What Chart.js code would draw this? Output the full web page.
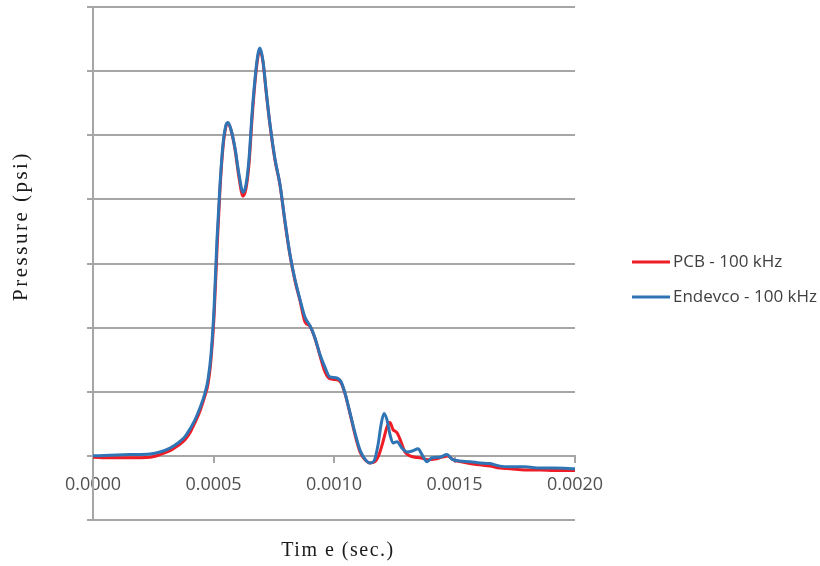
<!DOCTYPE html>
<html>
<head>
<meta charset="utf-8">
<script src="https://cdn.jsdelivr.net/npm/chart.js@4/dist/chart.umd.min.js"></script>
<style>
  html, body { margin: 0; padding: 0; background: #ffffff; }
  #wrap { width: 820px; height: 566px; position: relative; }
</style>
</head>
<body>
<div id="wrap"><canvas id="c" width="820" height="566"></canvas></div>
<script>
// ---- Data (time in seconds, pressure in gridline units) ----
const seriesNames = ["PCB - 100 kHz", "Endevco - 100 kHz"];
const xTickValues = [0, 0.0005, 0.0010, 0.0015, 0.0020];
const xTitle = "Tim e (sec.)";
const yTitle = "Pressure (psi)";

const endevcoTime = [
  0, 0.0000705, 0.0001535, 0.0002365, 0.0002780, 0.0003195, 0.0003527, 0.0003817,
  0.0004025, 0.0004232, 0.0004440, 0.0004647, 0.0004772, 0.0004896, 0.0005021, 0.0005145,
  0.0005270, 0.0005394, 0.0005519, 0.0005602, 0.0005726, 0.0005892, 0.0006058, 0.0006224,
  0.0006349, 0.0006473, 0.0006598, 0.0006722, 0.0006846, 0.0006929, 0.0007054, 0.0007178,
  0.0007344, 0.0007552, 0.0007760, 0.0007967, 0.0008174, 0.0008382, 0.0008589, 0.0008797,
  0.0009004, 0.0009212, 0.0009419, 0.0009627, 0.0009834, 0.0010083, 0.0010290, 0.0010456,
  0.0010664, 0.0010871, 0.0011079, 0.0011286, 0.0011494, 0.0011660, 0.0011826, 0.0011950,
  0.0012075, 0.0012199, 0.0012324, 0.0012448, 0.0012614, 0.0012822, 0.0013029, 0.0013278,
  0.0013485, 0.0013651, 0.0013859, 0.0014066, 0.0014398, 0.0014689, 0.0014896, 0.0015228,
  0.0015643, 0.0016058, 0.0016473, 0.0016888, 0.0017303, 0.0017925, 0.0018548, 0.0019170,
  0.0020000
];
const endevcoPressure = [
  0.00, 0.01, 0.02, 0.03, 0.06, 0.12, 0.20, 0.30,
  0.42, 0.56, 0.75, 0.98, 1.19, 1.58, 2.28, 3.38,
  4.23, 4.86, 5.16, 5.20, 5.09, 4.80, 4.39, 4.11,
  4.23, 4.63, 5.33, 5.88, 6.27, 6.36, 6.16, 5.72,
  5.17, 4.63, 4.23, 3.66, 3.14, 2.75, 2.44, 2.16,
  2.03, 1.84, 1.58, 1.38, 1.23, 1.22, 1.16, 0.98,
  0.67, 0.36, 0.09, -0.05, -0.11, -0.08, 0.17, 0.48,
  0.66, 0.56, 0.33, 0.20, 0.22, 0.12, 0.06, 0.08,
  0.11, 0.02, -0.09, -0.03, -0.02, 0.02, -0.05, -0.08,
  -0.09, -0.11, -0.12, -0.16, -0.17, -0.17, -0.19, -0.19,
  -0.20
];

const pcbTime = [
  0, 0.0000705, 0.0001535, 0.0002365, 0.0002780, 0.0003195, 0.0003527, 0.0003817,
  0.0004025, 0.0004232, 0.0004440, 0.0004647, 0.0004772, 0.0004896, 0.0005021, 0.0005145,
  0.0005270, 0.0005394, 0.0005519, 0.0005602, 0.0005726, 0.0005892, 0.0006058, 0.0006224,
  0.0006349, 0.0006473, 0.0006598, 0.0006722, 0.0006846, 0.0006929, 0.0007054, 0.0007178,
  0.0007344, 0.0007552, 0.0007760, 0.0007967, 0.0008174, 0.0008382, 0.0008589, 0.0008797,
  0.0009004, 0.0009212, 0.0009419, 0.0009627, 0.0009834, 0.0010083, 0.0010290, 0.0010456,
  0.0010664, 0.0010871, 0.0011079, 0.0011286, 0.0011494, 0.0011701, 0.0011867, 0.0012033,
  0.0012199, 0.0012324, 0.0012448, 0.0012614, 0.0012780, 0.0012946, 0.0013154, 0.0013361,
  0.0013568, 0.0013900, 0.0014191, 0.0014481, 0.0014730, 0.0014938, 0.0015228, 0.0015643,
  0.0016058, 0.0016473, 0.0016888, 0.0017303, 0.0017925, 0.0018548, 0.0019170, 0.0020000
];
const pcbPressure = [
  -0.02, -0.03, -0.03, -0.02, 0.02, 0.08, 0.16, 0.25,
  0.36, 0.52, 0.70, 0.94, 1.12, 1.50, 2.16, 3.22,
  4.16, 4.81, 5.14, 5.19, 5.08, 4.78, 4.34, 4.05,
  4.17, 4.55, 5.25, 5.83, 6.23, 6.33, 6.14, 5.70,
  5.16, 4.61, 4.22, 3.64, 3.13, 2.73, 2.42, 2.09,
  2.02, 1.83, 1.56, 1.31, 1.20, 1.19, 1.14, 0.97,
  0.66, 0.33, 0.06, -0.06, -0.11, -0.09, 0.02, 0.22,
  0.45, 0.52, 0.41, 0.36, 0.22, 0.06, 0.00, -0.02,
  -0.03, -0.06, -0.05, -0.02, 0.00, -0.06, -0.09, -0.12,
  -0.14, -0.16, -0.19, -0.20, -0.22, -0.22, -0.23, -0.23
];

const RED = '#ee1c25';
const BLUE = '#2f75b5';
const GRID = '#a6a6a6';

function toPoints(xs, ys) { return xs.map((x, i) => ({ x: x, y: ys[i] })); }

const decorPlugin = {
  id: 'decor',
  afterDraw(chart) {
    const ctx = chart.ctx;
    ctx.save();
    // Legend
    const items = [
      { label: seriesNames[0], color: RED, y: 262 },
      { label: seriesNames[1], color: BLUE, y: 297 }
    ];
    ctx.font = '17px "Open Sans", "Liberation Sans", sans-serif';
    ctx.textBaseline = 'middle';
    ctx.textAlign = 'left';
    items.forEach(it => {
      ctx.strokeStyle = it.color;
      ctx.lineWidth = 3;
      ctx.beginPath();
      ctx.moveTo(632, it.y);
      ctx.lineTo(670, it.y);
      ctx.stroke();
      ctx.fillStyle = '#404040';
      ctx.fillText(it.label, 673, it.y);
    });
    // Axis titles
    ctx.fillStyle = '#1a1a1a';
    try { ctx.letterSpacing = '1.5px'; } catch (e) {}
    ctx.textAlign = 'center';
    ctx.textBaseline = 'middle';
    ctx.font = '20px "Liberation Serif", "DejaVu Serif", serif';
    ctx.fillText(xTitle, 338, 551);
    ctx.font = '21px "Liberation Serif", "DejaVu Serif", serif';
    try { ctx.letterSpacing = '2.5px'; } catch (e) {}
    ctx.translate(21, 226);
    ctx.rotate(-Math.PI / 2);
    ctx.fillText(yTitle, 0, 0);
    ctx.restore();
  }
};

new Chart(document.getElementById('c'), {
  type: 'line',
  data: {
    datasets: [
      {
        label: seriesNames[0],
        data: toPoints(pcbTime, pcbPressure),
        borderColor: RED,
        backgroundColor: RED,
        borderWidth: 3,
        pointRadius: 0,
        cubicInterpolationMode: 'monotone',
        order: 1
      },
      {
        label: seriesNames[1],
        data: toPoints(endevcoTime, endevcoPressure),
        borderColor: BLUE,
        backgroundColor: BLUE,
        borderWidth: 3,
        pointRadius: 0,
        cubicInterpolationMode: 'monotone',
        order: 0
      }
    ]
  },
  options: {
    responsive: false,
    animation: false,
    events: [],
    layout: { padding: { left: 0, top: 7, right: 245, bottom: 46 } },
    plugins: {
      legend: { display: false },
      tooltip: { enabled: false },
      title: { display: false }
    },
    scales: {
      x: {
        type: 'linear',
        min: 0,
        max: 0.002,
        position: { y: 0 },
        afterFit: (s) => { s.height = 0; },
        afterBuildTicks: (s) => { s.ticks = xTickValues.map(v => ({ value: v })); },
        grid: { drawOnChartArea: false, color: GRID, lineWidth: 2, tickLength: 6 },
        border: { color: GRID, width: 2 },
        ticks: {
          color: '#505050',
          font: { family: '"Open Sans", "Liberation Sans", sans-serif', size: 18 },
          padding: 12,
          maxRotation: 0,
          autoSkip: false,
          callback: (v) => Number(v).toFixed(4)
        }
      },
      y: {
        type: 'linear',
        min: -1,
        max: 7,
        afterFit: (s) => { s.width = 93; },
        grid: { color: GRID, lineWidth: 2, tickLength: 6 },
        border: { color: GRID, width: 2 },
        ticks: { stepSize: 1, display: false }
      }
    }
  },
  plugins: [decorPlugin]
});
</script>
</body>
</html>
